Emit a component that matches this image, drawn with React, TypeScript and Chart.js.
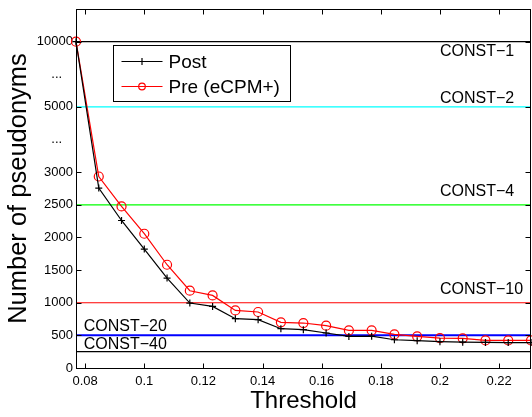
import React, { useEffect, useRef } from 'react';
import { Chart, registerables } from 'chart.js';

Chart.register(...registerables);

// ---- data ----
const thresholds = [
  0.0769, 0.0846, 0.0923, 0.1, 0.1077, 0.1154, 0.1231, 0.1308, 0.1385, 0.1462, 0.1538,
  0.1615, 0.1692, 0.1769, 0.1846, 0.1923, 0.2, 0.2077, 0.2154, 0.2231, 0.2308,
];
const postCounts = [
  10000, 2757, 2260, 1822, 1378, 995, 943, 755, 740, 602, 587,
  536, 484, 487, 433, 418, 403, 395, 392, 390, 390,
];
const preCounts = [
  10000, 2934, 2475, 2057, 1582, 1184, 1112, 882, 858, 699, 689,
  648, 576, 575, 515, 484, 459, 455, 423, 423, 423,
];
const seriesNames = ['Post', 'Pre (eCPM+)'];

const constNames = ['CONST−1', 'CONST−2', 'CONST−4', 'CONST−10', 'CONST−20', 'CONST−40'];
const constValues = [10000, 5000, 2500, 1000, 500, 250];
const constLabelX = [0.2, 0.2, 0.2, 0.2, 0.0795, 0.0795];
const constLabelY = [9200, 5600, 2700, 1200, 630, 355];

const xTickValues = [0.08, 0.1, 0.12, 0.14, 0.16, 0.18, 0.2, 0.22];
const yTickValues = [0, 500, 1000, 1500, 2000, 2500, 3000, 4000, 5000, 7500, 10000];
const yTickLabels = ['0', '500', '1000', '1500', '2000', '2500', '3000', '...   ', '5000', '...   ', '10000'];

// ---- styles ----
const FONT = '"Liberation Sans", Arial, Helvetica, sans-serif';
const constColors = ['#000000', '#00ffff', '#00ff00', '#ff0000', '#0000ff', '#000000'];
const constWidths = [1.2, 1.2, 1.2, 1.2, 2, 1.2];
const W = 532;
const H = 417;
const AREA = { left: 76, right: 531, top: 9, bottom: 368 };

// piecewise (broken) y axis: 0..3000 linear, 3000..5000 and 5000..10000 compressed
function toUnits(v: number): number {
  if (v <= 3000) return v / 500;
  if (v <= 5000) return 6 + (v - 3000) / 1000;
  return 8 + (v - 5000) / 2500;
}

const X_MIN = thresholds[0];
const X_MAX = thresholds[thresholds.length - 1];

const decorPlugin = {
  id: 'decor',
  afterDatasetsDraw(chart: any) {
    const { ctx, chartArea: a, scales } = chart;
    const x = scales.x;
    const y = scales.y;
    ctx.save();
    // constant labels
    ctx.fillStyle = '#000';
    ctx.font = `16px ${FONT}`;
    ctx.textAlign = 'left';
    ctx.textBaseline = 'middle';
    constNames.forEach((n, i) => {
      ctx.fillText(n, x.getPixelForValue(constLabelX[i]), y.getPixelForValue(toUnits(constLabelY[i])));
    });
    // frame
    const L = Math.round(a.left) + 0.5;
    const T = Math.round(a.top) + 0.5;
    const R = Math.round(a.right) - 0.5;
    const B = Math.round(a.bottom) + 0.5;
    ctx.strokeStyle = '#000';
    ctx.lineWidth = 1;
    ctx.strokeRect(L, T, R - L, B - T);
    // inner tick marks
    ctx.beginPath();
    xTickValues.forEach((v) => {
      const px = Math.round(x.getPixelForValue(v)) + 0.5;
      ctx.moveTo(px, B);
      ctx.lineTo(px, B - 5);
      ctx.moveTo(px, T);
      ctx.lineTo(px, T + 5);
    });
    yTickValues.forEach((v, i) => {
      if (yTickLabels[i].trim() === '...') return;
      const py = Math.round(y.getPixelForValue(toUnits(v))) + 0.5;
      ctx.moveTo(L, py);
      ctx.lineTo(L + 5, py);
      ctx.moveTo(R, py);
      ctx.lineTo(R - 5, py);
    });
    ctx.stroke();
    // legend
    const bx = Math.round(a.left) + 37.5;
    const by = Math.round(a.top) + 36.5;
    const bw = 177;
    const bh = 56;
    ctx.fillStyle = '#fff';
    ctx.fillRect(bx, by, bw, bh);
    ctx.strokeStyle = '#000';
    ctx.strokeRect(bx, by, bw, bh);
    const rows = [by + 16, by + 41];
    const colors = ['#000', '#ff0000'];
    ctx.font = `19px ${FONT}`;
    ctx.textBaseline = 'middle';
    rows.forEach((ry, i) => {
      ctx.strokeStyle = colors[i];
      ctx.lineWidth = 1.2;
      ctx.beginPath();
      ctx.moveTo(bx + 8, ry);
      ctx.lineTo(bx + 49, ry);
      ctx.stroke();
      const mx = bx + 28.5;
      ctx.beginPath();
      if (i === 0) {
        ctx.moveTo(mx, ry - 3.5);
        ctx.lineTo(mx, ry + 3.5);
        ctx.moveTo(mx - 3.5, ry);
        ctx.lineTo(mx + 3.5, ry);
      } else {
        ctx.arc(mx, ry, 3.3, 0, Math.PI * 2);
      }
      ctx.stroke();
      ctx.fillStyle = '#000';
      ctx.fillText(seriesNames[i], bx + 55, ry + 1);
    });
    ctx.restore();
  },
};

export default function App() {
  const ref = useRef<HTMLCanvasElement>(null);
  useEffect(() => {
    if (!ref.current) return;
    const constSets = constValues.map((v, i) => ({
      label: constNames[i],
      data: [
        { x: X_MIN, y: toUnits(v) },
        { x: X_MAX, y: toUnits(v) },
      ],
      borderColor: constColors[i],
      borderWidth: constWidths[i],
      pointRadius: 0,
      fill: false,
    }));
    const chart = new Chart(ref.current, {
      type: 'line',
      data: {
        datasets: [
          {
            label: seriesNames[0],
            data: thresholds.map((t, i) => ({ x: t, y: toUnits(postCounts[i]) })),
            borderColor: '#000',
            borderWidth: 1.2,
            pointStyle: 'cross',
            pointRadius: 3.5,
            pointBorderWidth: 1.2,
            pointBorderColor: '#000',
            pointBackgroundColor: 'transparent',
            fill: false,
            clip: false,
          } as any,
          {
            label: seriesNames[1],
            data: thresholds.map((t, i) => ({ x: t, y: toUnits(preCounts[i]) })),
            borderColor: '#ff0000',
            borderWidth: 1.2,
            pointStyle: 'circle',
            pointRadius: 4.5,
            pointBorderWidth: 1.2,
            pointBorderColor: '#ff0000',
            pointBackgroundColor: 'transparent',
            fill: false,
            clip: false,
          } as any,
          ...constSets,
        ],
      },
      options: {
        responsive: false,
        animation: false,
        devicePixelRatio: 1,
        layout: { autoPadding: false, padding: { left: 0, right: W - AREA.right, top: AREA.top, bottom: 0 } },
        elements: { line: { tension: 0 } },
        plugins: { legend: { display: false }, tooltip: { enabled: false } },
        scales: {
          x: {
            type: 'linear',
            min: X_MIN,
            max: X_MAX,
            afterBuildTicks: (s: any) => {
              s.ticks = xTickValues.map((v) => ({ value: v }));
            },
            afterFit: (s: any) => {
              s.height = H - AREA.bottom;
              s.paddingLeft = 0;
              s.paddingRight = 0;
            },
            ticks: {
              autoSkip: false,
              maxRotation: 0,
              padding: 6,
              color: '#000',
              font: { family: FONT, size: 13 },
              callback: (v: any) => String(Number(Number(v).toFixed(2))),
            },
            grid: { display: false, drawTicks: false },
            border: { display: false },
            title: {
              display: true,
              text: 'Threshold',
              color: '#000',
              font: { family: FONT, size: 24 },
              padding: { top: 0, bottom: 1 },
            },
          },
          y: {
            type: 'linear',
            min: 0,
            max: 11,
            afterBuildTicks: (s: any) => {
              s.ticks = yTickValues.map((v) => ({ value: toUnits(v) }));
            },
            afterFit: (s: any) => {
              s.width = AREA.left;
              s.paddingTop = 0;
              s.paddingBottom = 0;
            },
            ticks: {
              autoSkip: false,
              padding: 3,
              color: '#000',
              font: { family: FONT, size: 13 },
              callback: (_v: any, idx: number) => yTickLabels[idx],
            },
            grid: { display: false, drawTicks: false },
            border: { display: false },
            title: {
              display: true,
              text: 'Number of pseudonyms',
              color: '#000',
              font: { family: FONT, size: 25.5 },
              padding: { top: 4, bottom: 0 },
            },
          },
        },
      } as any,
      plugins: [decorPlugin],
    });
    return () => chart.destroy();
  }, []);
  return (
    <div style={{ position: 'fixed', left: 0, top: 0, width: W, height: H, overflow: 'hidden', background: '#fff' }}>
      <canvas ref={ref} width={W} height={H} style={{ display: 'block', width: W, height: H }} />
    </div>
  );
}
